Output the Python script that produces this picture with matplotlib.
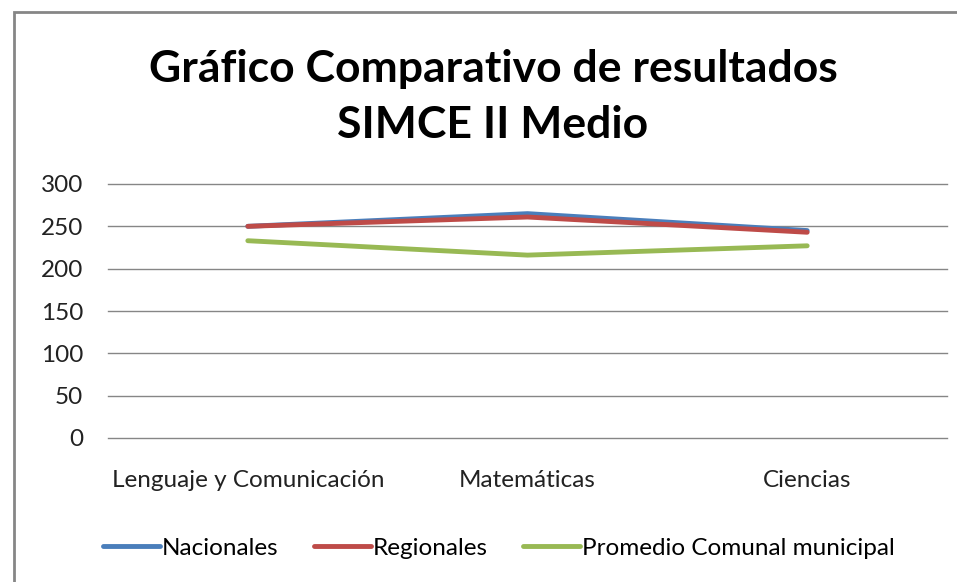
import matplotlib.pyplot as plt
from matplotlib.patches import Rectangle

# SIMCE II Medio comparison
categorias = ['Lenguaje y Comunicación', 'Matemáticas', 'Ciencias']
nacionales = [250, 265, 245]
regionales = [250, 261, 243]
comunal = [233, 216, 227]

W, H = 957, 582
fig = plt.figure(figsize=(W / 100, H / 100), dpi=100)
plt.rcParams['font.family'] = ['Lato', 'DejaVu Sans']

# outer chart frame (left/top visible, rest runs off the picture)
fig.patches.append(Rectangle((14 / W, -0.05), 1.1, 1 - 12 / H + 0.05,
                             transform=fig.transFigure, fill=False,
                             edgecolor='#868686', linewidth=2))

ax = fig.add_axes([108 / W, 144 / H, (947 - 108) / W, 254 / H])
x = range(len(categorias))
ax.plot(x, nacionales, color='#4a7ebb', lw=3.5, label='Nacionales', solid_capstyle='round')
ax.plot(x, regionales, color='#be4b48', lw=3.5, label='Regionales', solid_capstyle='round')
ax.plot(x, comunal, color='#98b954', lw=3.5, label='Promedio Comunal municipal', solid_capstyle='round')

ax.set_xlim(-0.5, 2.5)
ax.set_ylim(0, 300)
ax.set_yticks(range(0, 301, 50))
ax.set_xticks(list(x))
ax.set_xticklabels(categorias)
ax.yaxis.grid(True, color='#868686', lw=1)
for gl in ax.get_ygridlines():
    gl.set_clip_on(False)
ax.set_axisbelow(True)
for s in ax.spines.values():
    s.set_visible(False)
ax.tick_params(axis='both', length=0, labelsize=17.5, colors='#222222')
ax.tick_params(axis='y', pad=18)
ax.tick_params(axis='x', pad=23)

fig.text(493 / W, 1 - 97 / H, 'Gráfico Comparativo de resultados\nSIMCE II Medio',
         ha='center', va='center', fontsize=32, fontweight='bold',
         linespacing=1.5)

fig.legend(loc='center', bbox_to_anchor=(499 / W, 1 - 548 / H), ncol=3,
           frameon=False, fontsize=17.5, handlelength=2.35, handletextpad=0.08,
           columnspacing=1.45)

fig.savefig('out.png', dpi=100)
